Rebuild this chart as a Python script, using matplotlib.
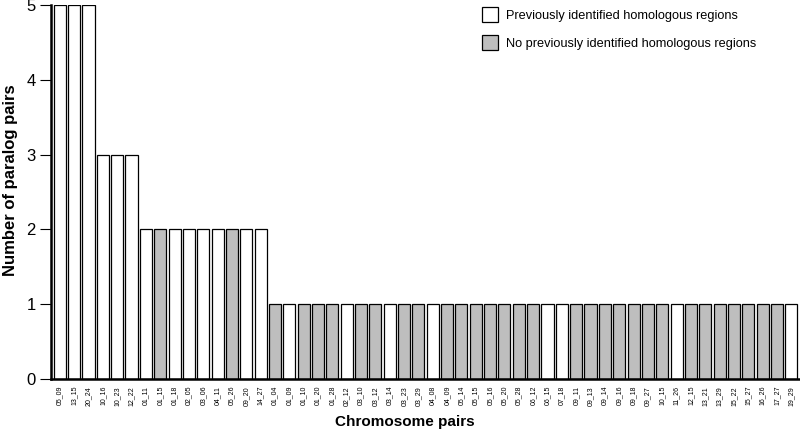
import matplotlib
matplotlib.use("Agg")
import matplotlib.pyplot as plt
from matplotlib.patches import Patch

plt.rcParams['font.family'] = ['Liberation Sans', 'DejaVu Sans']

categories = ["05_09", "13_15", "20_24", "10_16", "10_23", "12_22",
              "01_11", "01_15", "01_18", "02_05", "03_06", "04_11", "05_26", "09_20", "14_27",
              "01_04", "01_09", "01_10", "01_20", "01_28", "02_12", "03_10", "03_12", "03_14",
              "03_23", "03_29", "04_08", "04_09", "05_14", "05_15", "05_16", "05_20", "05_28",
              "06_12", "06_15", "07_18", "09_11", "09_13", "09_14", "09_16", "09_18", "09_27",
              "10_15", "11_26", "12_15", "13_21", "13_29", "15_22", "15_27", "16_26", "17_27",
              "19_29"]
values = [5, 5, 5, 3, 3, 3,
          2, 2, 2, 2, 2, 2, 2, 2, 2] + [1] * 37
# 1 = previously identified (white), 0 = not previously identified (gray)
previously = [1, 1, 1, 1, 1, 1,
              1, 0, 1, 1, 1, 1, 0, 1, 1,
              0, 1, 0, 0, 0, 1, 0, 0, 1,
              0, 0, 1, 0, 0, 0, 0, 0, 0,
              0, 1, 1, 0, 0, 0, 0, 0, 0,
              0, 1, 0, 0, 0, 0, 0, 0, 0,
              1]
legend_labels = ["Previously identified homologous regions",
                 "No previously identified homologous regions"]

WHITE = "#ffffff"
GRAY = "#bebebe"

fig = plt.figure(figsize=(8, 4.3), dpi=100)
ax = fig.add_axes([0.064, 0.1186, 0.935, 0.8694])

colors = [WHITE if p else GRAY for p in previously]
x = list(range(len(categories)))
ax.bar(x, values, width=0.84, color=colors, edgecolor="black", linewidth=0.9)

ax.set_xlim(-0.6, len(categories) - 0.45)
ax.set_ylim(0, 5)
ax.set_yticks([0, 1, 2, 3, 4, 5])
ax.tick_params(axis='y', labelsize=12, length=8, width=0.8, pad=3)
ax.set_xticks(x)
ax.set_xticklabels(categories, rotation=90, fontsize=5)
ax.tick_params(axis='x', length=0, pad=5)

for s in ["top", "right"]:
    ax.spines[s].set_visible(False)
ax.spines["left"].set_linewidth(1.8)
ax.spines["bottom"].set_linewidth(1.8)

ax.set_ylabel("Number of paralog pairs", fontsize=12, fontweight="bold")
ax.yaxis.set_label_coords(-0.044, 0.532)
ax.set_xlabel("Chromosome pairs", fontsize=11, fontweight="bold")
ax.xaxis.set_label_coords(0.473, -0.097)

handles = [Patch(facecolor=WHITE, edgecolor="black", linewidth=0.9),
           Patch(facecolor=GRAY, edgecolor="black", linewidth=0.9)]
ax.legend(handles, legend_labels, loc="upper left", bbox_to_anchor=(0.56, 1.025),
          frameon=False, fontsize=9.2, handlelength=1.3, handleheight=1.45,
          handletextpad=0.65, labelspacing=0.98)

fig.savefig("out.png", dpi=100)
